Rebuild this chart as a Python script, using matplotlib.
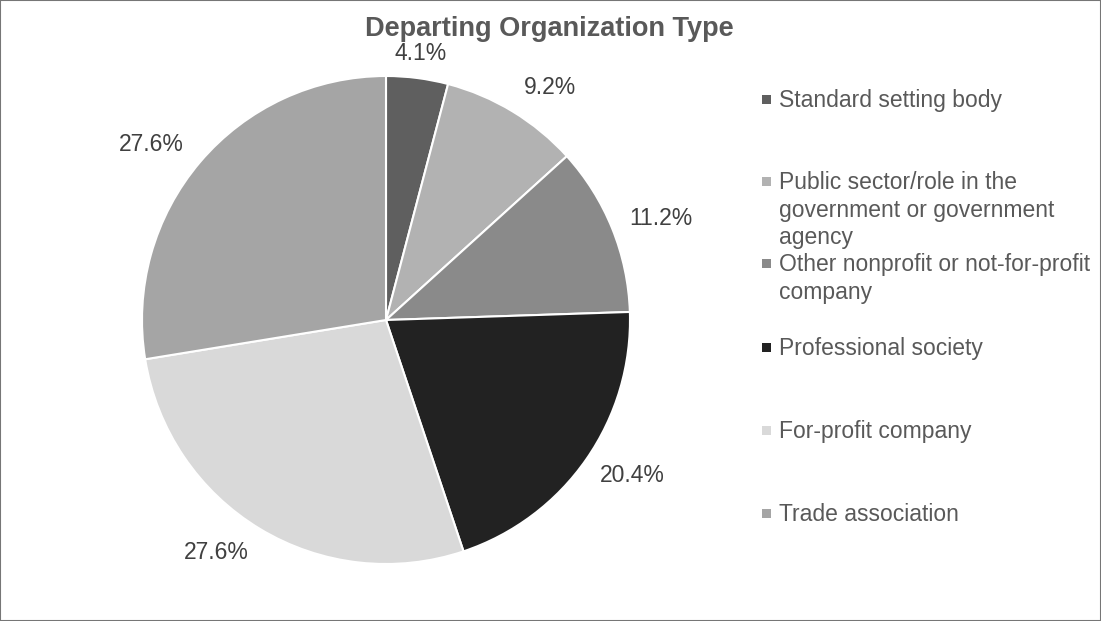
import matplotlib.pyplot as plt
import numpy as np
from matplotlib.patches import Rectangle

# data
categories = ["Standard setting body",
              "Public sector/role in the\ngovernment or government\nagency",
              "Other nonprofit or not-for-profit\ncompany",
              "Professional society",
              "For-profit company",
              "Trade association"]
shares = [4.1, 9.2, 11.2, 20.4, 27.6, 27.6]
colors = ["#5f5f5f", "#b2b2b2", "#8a8a8a", "#222222", "#d9d9d9", "#a5a5a5"]

plt.rcParams['font.family'] = ['Liberation Sans', 'DejaVu Sans']

fig = plt.figure(figsize=(11.01, 6.21), dpi=100)
W, H = 1101, 621

# pie: center (386, 320), radius 244 px
cx, cy, r = 386, 320, 244
ax = fig.add_axes([(cx - r) / W, (H - cy - r) / H, 2 * r / W, 2 * r / H])
wedges, texts, autotexts = ax.pie(shares, colors=colors, startangle=90, counterclock=False,
                                  autopct="%.1f%%", pctdistance=1.18, radius=1,
                                  wedgeprops=dict(edgecolor="white", linewidth=1.5),
                                  textprops=dict(fontsize=16.5, color="#404040"))
ax.set_xlim(-1, 1)
ax.set_ylim(-1, 1)
ax.set_aspect("equal")

# Excel "best fit" label placement: distance and angle nudge per label
label_dist = [1.1, 1.165, 1.2, 1.195, 1.18, 1.2]
label_turn = [0, -4, -1.8, 2.5, -5, 3.5]
for w, t, d, a in zip(wedges, autotexts, label_dist, label_turn):
    ang = np.deg2rad(0.5 * (w.theta1 + w.theta2) + a)
    t.set_position((d * np.cos(ang), d * np.sin(ang)))

fig.text(0.5 * (363 + 736) / W, 1 - 29 / H, "Departing Organization Type",
         ha="center", va="center", fontsize=19.5, fontweight="bold", color="#595959")

# legend drawn by hand (Excel-like spacing)
legend_y = [99, 181, 263, 347, 430, 513]
for lab, col, ly in zip(categories, colors, legend_y):
    fig.patches.append(Rectangle((762 / W, 1 - (ly + 5) / H), 9 / W, 9 / H,
                                 transform=fig.transFigure, facecolor=col, edgecolor="none"))
    fig.text(779 / W, 1 - (ly - 10) / H, lab, ha="left", va="top", fontsize=16.5,
             color="#595959", linespacing=1.26)

fig.patches.append(Rectangle((0, 0), 1, 1, transform=fig.transFigure, fill=False,
                             edgecolor="#767676", linewidth=1.5))

fig.savefig("out.png", dpi=100)
